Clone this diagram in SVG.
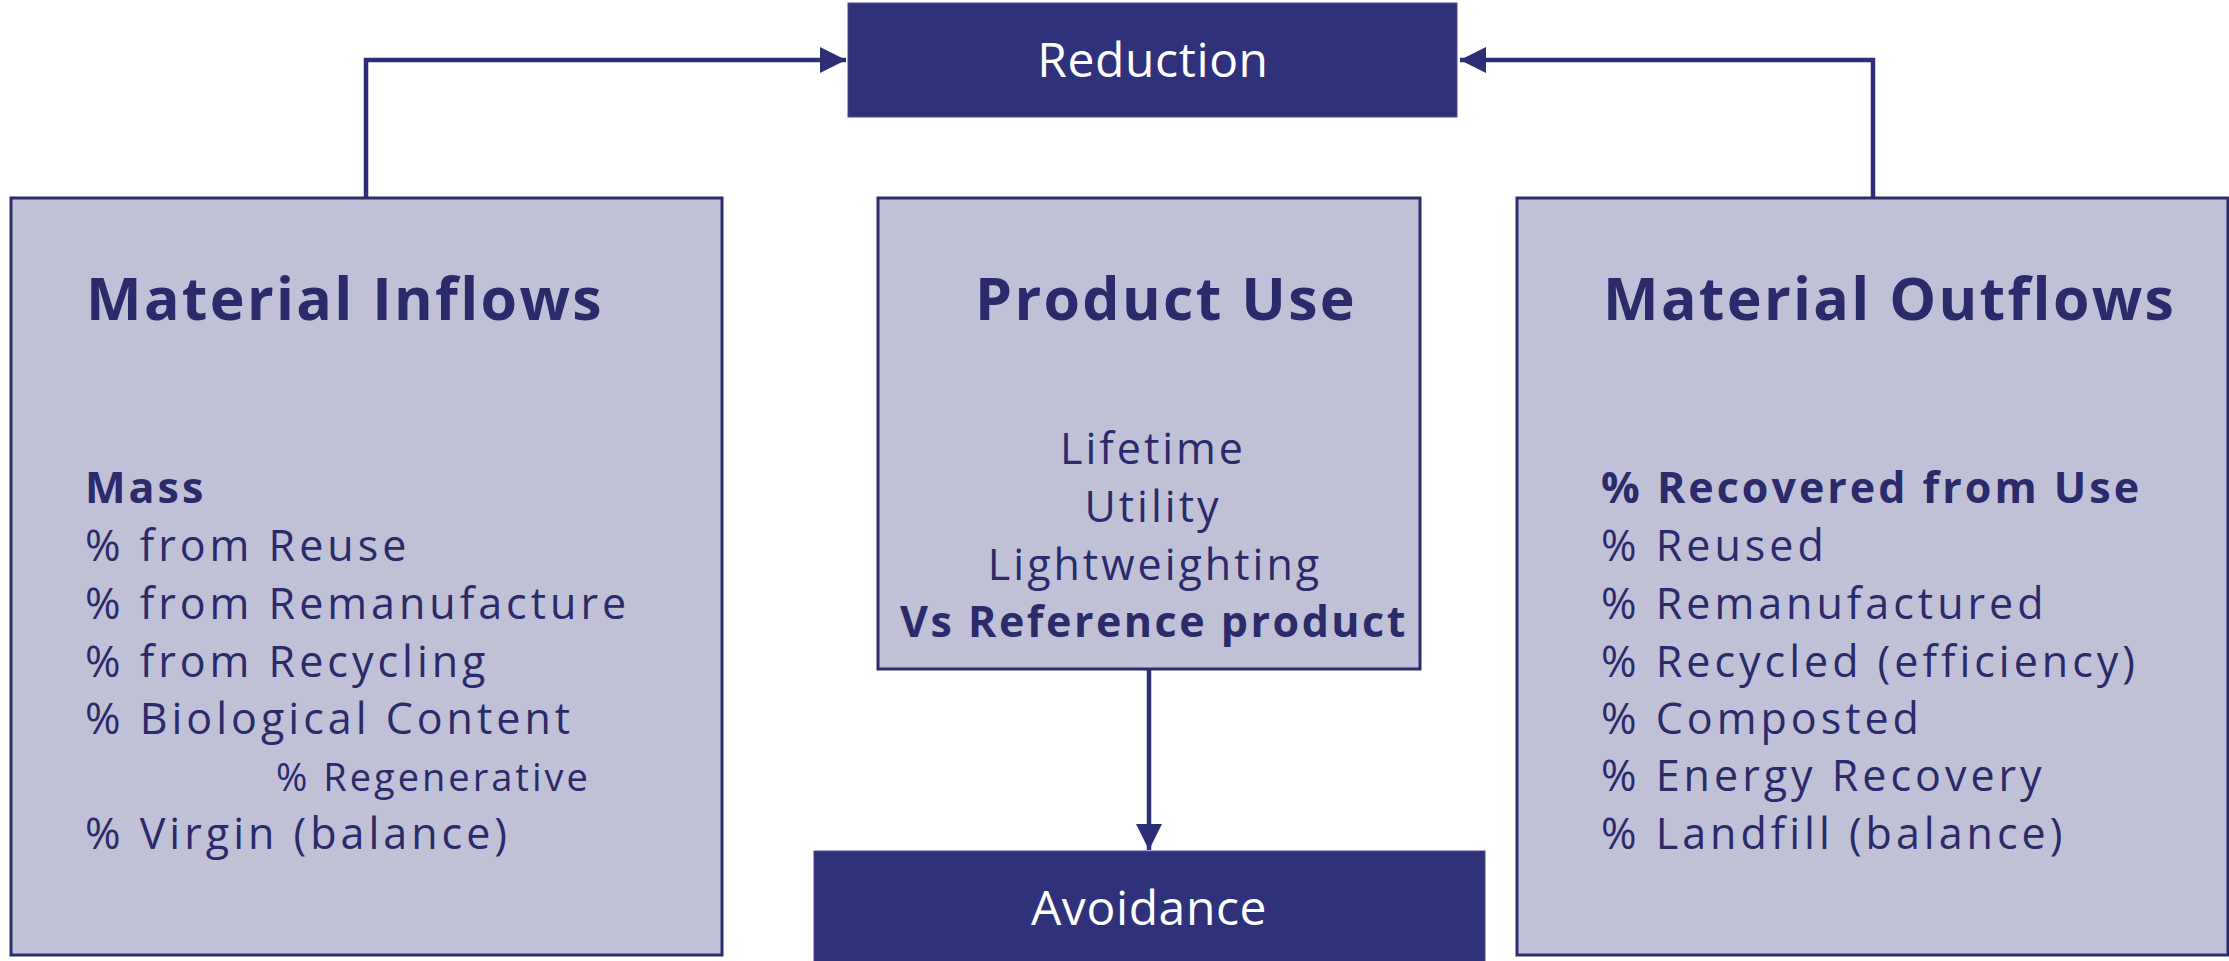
<svg xmlns="http://www.w3.org/2000/svg" width="2229" height="961" viewBox="0 0 2229 961">
  <style>
    .panel { fill: #c0c1d7; stroke: #2d2c6c; stroke-width: 3; }
    .band { fill: #2f317b; stroke: #4a4b88; stroke-width: 1; }
    .wire { fill: none; stroke: #2d2e75; stroke-width: 4.5; }
    text { font-family: "Open Sans", "Liberation Sans", sans-serif; fill: #2b2a6a; }
    .title { font-size: 59px; font-weight: 700; letter-spacing: 2.3px; }
    .band-label { font-size: 48px; font-weight: 400; fill: #ffffff; letter-spacing: 0.6px; text-anchor: middle; }
    .item { font-size: 43px; font-weight: 400; letter-spacing: 4px; }
    .item-b { font-size: 43px; font-weight: 700; letter-spacing: 3px; }
    .small { font-size: 38px; font-weight: 400; letter-spacing: 3px; }
    .mid { font-size: 43px; font-weight: 400; letter-spacing: 3px; text-anchor: middle; }
    .mid-b { font-size: 43px; font-weight: 700; letter-spacing: 2.5px; text-anchor: middle; }
  </style>
  <defs>
    <marker id="arrow" markerUnits="userSpaceOnUse" markerWidth="26" markerHeight="26" refX="26" refY="13" orient="auto">
      <path d="M0,0 L26,13 L0,26 Z" fill="#2d2e75"/>
    </marker>
  </defs>

  <!-- connectors -->
  <g id="connectors">
    <path class="wire" d="M366,198 V60 H846" marker-end="url(#arrow)"/>
    <path class="wire" d="M1873,198 V60 H1460" marker-end="url(#arrow)"/>
    <path class="wire" d="M1149,670 V850" marker-end="url(#arrow)"/>
  </g>

  <g id="reduction">
    <rect class="band" x="848" y="3" width="609" height="114"/>
    <text class="band-label" x="1153" y="77">Reduction</text>
  </g>

  <g id="avoidance">
    <rect class="band" x="814" y="851" width="671" height="120"/>
    <text class="band-label" x="1149" y="925">Avoidance</text>
  </g>

  <g id="material-inflows">
    <rect class="panel" x="11" y="198" width="711" height="757"/>
    <text class="title" x="86" y="320">Material Inflows</text>
    <text class="item-b" x="85" y="503">Mass</text>
    <text class="item" x="85" y="561">% from Reuse</text>
    <text class="item" x="85" y="619">% from Remanufacture</text>
    <text class="item" x="85" y="677">% from Recycling</text>
    <text class="item" x="85" y="734">% Biological Content</text>
    <text class="small" x="276" y="791">% Regenerative</text>
    <text class="item" x="85" y="849">% Virgin (balance)</text>
  </g>

  <g id="product-use">
    <rect class="panel" x="878" y="198" width="542" height="471"/>
    <text class="title" x="1166" y="320" text-anchor="middle">Product Use</text>
    <text class="mid" x="1153" y="464">Lifetime</text>
    <text class="mid" x="1153" y="522">Utility</text>
    <text class="mid" x="1155" y="580">Lightweighting</text>
    <text class="mid-b" x="1154" y="637">Vs Reference product</text>
  </g>

  <g id="material-outflows">
    <rect class="panel" x="1517" y="198" width="711" height="757"/>
    <text class="title" x="1603" y="320">Material Outflows</text>
    <text class="item-b" x="1601" y="503">% Recovered from Use</text>
    <text class="item" x="1601" y="561">% Reused</text>
    <text class="item" x="1601" y="619">% Remanufactured</text>
    <text class="item" x="1601" y="677">% Recycled (efficiency)</text>
    <text class="item" x="1601" y="734">% Composted</text>
    <text class="item" x="1601" y="791">% Energy Recovery</text>
    <text class="item" x="1601" y="849">% Landfill (balance)</text>
  </g>
</svg>
